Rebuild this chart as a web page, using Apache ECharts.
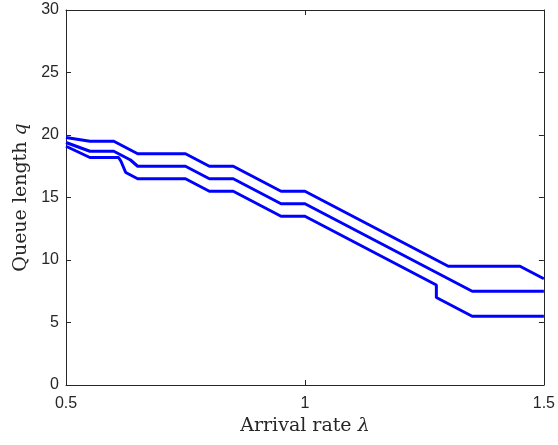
<!DOCTYPE html>
<html lang="en">
<head>
  <meta charset="UTF-8">
  <title>Queue length vs arrival rate</title>
  <script src="https://cdn.jsdelivr.net/npm/echarts@6/dist/echarts.min.js"></script>
</head>
<body style="margin:0">
  <div id="container" style="width:558px;height:445px;"></div>
  <script>
    // breakpoints of the three curves: arrival rate -> queue length
    var upperX = [0.5, 0.55, 0.6, 0.65, 0.75, 0.8, 0.85, 0.95, 1.0, 1.3, 1.45, 1.5];
    var upperY = [19.8, 19.5, 19.5, 18.5, 18.5, 17.5, 17.5, 15.5, 15.5, 9.5, 9.5, 8.5];
    var middleX = [0.5, 0.55, 0.6, 0.635, 0.65, 0.75, 0.8, 0.85, 0.95, 1.0, 1.35, 1.5];
    var middleY = [19.4, 18.7, 18.7, 18.0, 17.5, 17.5, 16.5, 16.5, 14.5, 14.5, 7.5, 7.5];
    var lowerX = [0.5, 0.55, 0.61, 0.615, 0.625, 0.65, 0.75, 0.8, 0.85, 0.95, 1.0, 1.275, 1.275, 1.35, 1.5];
    var lowerY = [19.1, 18.2, 18.2, 17.9, 17.0, 16.5, 16.5, 15.5, 15.5, 13.5, 13.5, 8.0, 7.0, 5.5, 5.5];

    // axis ranges / tick steps
    var xRange = [0.5, 1.5], xStep = 0.5;
    var yRange = [0, 30], yStep = 5;

    function pairs(xs, ys) {
      return xs.map(function (x, i) { return [x, ys[i]]; });
    }

    var axisColor = '#262626';
    var myChart = echarts.init(document.getElementById('container'));

    // MATLAB style box: ticks inside on all four sides
    function boxAxis(extra) {
      return Object.assign({
        type: 'value',
        axisLine: { show: true, onZero: false, lineStyle: { color: axisColor, width: 1 } },
        axisTick: { show: true, inside: true, length: 5, lineStyle: { color: axisColor } },
        splitLine: { show: false }
      }, extra);
    }

    var nameStyle = {
      fontFamily: 'DejaVu Serif',
      fontSize: 19,
      color: axisColor,
      rich: { i: { fontFamily: 'DejaVu Serif', fontStyle: 'italic', fontSize: 19, color: axisColor } }
    };
    var labelStyle = { fontFamily: 'Liberation Sans', fontSize: 16, color: axisColor };

    myChart.setOption({
      backgroundColor: '#fff',
      animation: false,
      grid: { left: 66, right: 13, top: 10, bottom: 60 },
      xAxis: [
        boxAxis({
          position: 'bottom', min: xRange[0], max: xRange[1], interval: xStep,
          name: 'Arrival rate {i|λ}', nameLocation: 'middle', nameGap: 27,
          nameTextStyle: nameStyle,
          axisLabel: Object.assign({ margin: 11 }, labelStyle)
        }),
        boxAxis({
          position: 'top', min: xRange[0], max: xRange[1], interval: xStep,
          axisLabel: { show: false }
        })
      ],
      yAxis: [
        boxAxis({
          position: 'left', min: yRange[0], max: yRange[1], interval: yStep,
          name: 'Queue length {i|q}', nameLocation: 'middle', nameGap: 35,
          nameTextStyle: nameStyle,
          axisLabel: Object.assign({ margin: 7 }, labelStyle)
        }),
        boxAxis({
          position: 'right', min: yRange[0], max: yRange[1], interval: yStep,
          axisLabel: { show: false }
        })
      ],
      series: [
        { type: 'line', data: pairs(upperX, upperY) },
        { type: 'line', data: pairs(middleX, middleY) },
        { type: 'line', data: pairs(lowerX, lowerY) }
      ].map(function (s) {
        return Object.assign(s, {
          showSymbol: false, symbol: 'none',
          lineStyle: { color: '#0000ff', width: 3 },
          itemStyle: { color: '#0000ff' }
        });
      })
    });
  </script>
</body>
</html>
